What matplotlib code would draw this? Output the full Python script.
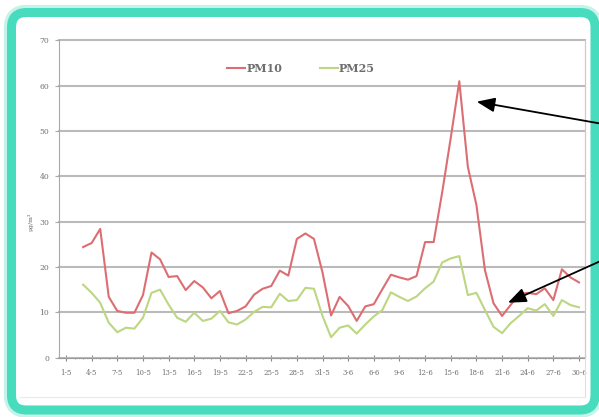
import numpy as np
import matplotlib
matplotlib.use("Agg")
import matplotlib.pyplot as plt
from matplotlib.patches import FancyBboxPatch
from matplotlib.lines import Line2D

# daily values from 3-5 to 30-6 (ug/m3)
pm10 = [24.4, 25.3, 28.4, 13.4, 10.3, 9.9, 9.9, 13.8, 23.2, 21.7,
        17.8, 18.0, 14.9, 16.9, 15.5, 13.1, 14.7, 9.8, 10.3, 11.3,
        13.9, 15.2, 15.8, 19.2, 18.1, 26.2, 27.4, 26.2, 18.8, 9.3,
        13.4, 11.4, 8.1, 11.3, 11.8, 15.1, 18.3, 17.7, 17.2, 18.0,
        25.5, 25.5, 36.5, 48.5, 61.0, 42.1, 33.7, 19.3, 12.0, 9.2,
        11.6, 14.0, 14.3, 14.0, 15.3, 12.7, 19.5, 17.7, 16.6]
pm25 = [16.1, 14.3, 12.1, 7.7, 5.6, 6.6, 6.4, 8.8, 14.3, 15.0,
        11.7, 8.8, 7.9, 9.9, 8.1, 8.6, 10.3, 7.8, 7.3, 8.4,
        10.1, 11.2, 11.1, 14.1, 12.5, 12.7, 15.4, 15.2, 9.2, 4.5,
        6.6, 7.1, 5.3, 7.3, 9.1, 10.5, 14.4, 13.4, 12.5, 13.5,
        15.3, 16.8, 21.0, 21.9, 22.4, 13.8, 14.3, 10.5, 6.8, 5.4,
        7.6, 9.2, 10.9, 10.4, 11.8, 9.2, 12.7, 11.6, 11.1]
tick_labels = ["1-5", "4-5", "7-5", "10-5", "13-5", "16-5", "19-5", "22-5",
               "25-5", "28-5", "31-5", "3-6", "6-6", "9-6", "12-6", "15-6",
               "18-6", "21-6", "24-6", "27-6", "30-6"]

days = np.arange(3, 3 + len(pm10))
tick_pos = np.arange(1, 62, 3)

plt.rcParams['font.family'] = ['DejaVu Serif']

fig = plt.figure(figsize=(5.99, 4.17), dpi=100)

# teal rounded frame, behind the axes
glow = FancyBboxPatch((0.115, 0.07), 5.835, 3.975, boxstyle="round,pad=0,rounding_size=0.15",
                      transform=fig.dpi_scale_trans, fill=False, ec='#c4f3ea', lw=11, zorder=-3)
frame = FancyBboxPatch((0.115, 0.07), 5.835, 3.975, boxstyle="round,pad=0,rounding_size=0.15",
                       transform=fig.dpi_scale_trans, fc='white', ec='#46dcbd', lw=6.5, zorder=-2)
fig.add_artist(glow)
fig.add_artist(frame)

ax = fig.add_axes([0.0985, 0.1424, 0.8781, 0.7606])
ax.set_facecolor('none')

ax.plot(days, pm10, color='#dc6e73', lw=1.5, label='PM10')
ax.plot(days, pm25, color='#bcd682', lw=1.5, label='PM25')

ax.set_xlim(0.18, 61.7)
ax.set_ylim(0, 70)
ax.set_yticks(range(0, 71, 10))
ax.yaxis.grid(True, color='#bababa', lw=1.5)
ax.set_axisbelow(True)
for gl in ax.get_ygridlines():
    gl.set_clip_on(False)

ax.set_xticks(tick_pos)
ax.set_xticklabels(tick_labels)
ax.set_xticks(np.arange(1, 62), minor=True)
ax.tick_params(axis='x', which='major', direction='inout', length=4, width=0.8,
               color='#888888', labelsize=5, labelcolor='#707070', pad=6)
ax.tick_params(axis='x', which='minor', direction='inout', length=2, width=0.6, color='#999999')
ax.tick_params(axis='y', direction='out', length=3, width=0.8, color='#aaaaaa',
               labelsize=5.5, labelcolor='#707070', pad=4)

ax.spines['top'].set_visible(False)
ax.spines['left'].set_color('#a8a8a8')
ax.spines['bottom'].set_color('#999999')
ax.spines['right'].set_color('#eebcc1')
ax.spines['right'].set_linewidth(0.9)

# faint chart area border below axes
fig.add_artist(Line2D([585 / 599, 585 / 599], [(417 - 397) / 417, 0.1424],
                      color='#f4d6d9', lw=0.8))
fig.add_artist(Line2D([20 / 599, 585 / 599], [(417 - 397) / 417] * 2,
                      color='#f8e4e6', lw=0.8))

leg = ax.legend(loc='center', bbox_to_anchor=(0.46, 0.913), ncol=2, frameon=False,
                handlelength=1.6, handletextpad=0.1, columnspacing=3.4,
                prop={'size': 8, 'weight': 'bold'})
for t in leg.get_texts():
    t.set_color('#6e6e6e')

fig.text(30.5 / 599, (417 - 222) / 417, 'μg/m³', rotation=90, fontsize=4.5,
         color='#666666', ha='center', va='center')

# arrows
ax.annotate('', xy=(0.7958, 0.7561), xycoords='figure fraction',
            xytext=(1.0, 0.7043), textcoords='figure fraction',
            arrowprops=dict(arrowstyle='-|>,head_length=0.55,head_width=0.22',
                            mutation_scale=20, color='black', lw=1.3, shrinkA=0, shrinkB=0),
            annotation_clip=False)
ax.annotate('', xy=(0.848, 0.2741), xycoords='figure fraction',
            xytext=(1.0, 0.3724), textcoords='figure fraction',
            arrowprops=dict(arrowstyle='-|>,head_length=0.55,head_width=0.22',
                            mutation_scale=20, color='black', lw=1.3, shrinkA=0, shrinkB=0),
            annotation_clip=False)

fig.savefig('out.png', dpi=100)
